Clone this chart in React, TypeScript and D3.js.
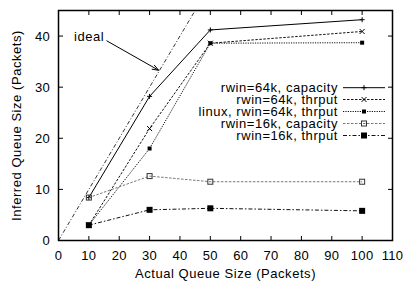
import React from "react";
import * as d3 from "d3";

const queueSizes = [10, 30, 50, 100];
const cap64 = [8.4, 28.2, 41.2, 43.2];
const thr64 = [3.0, 21.9, 38.6, 40.9];
const linuxThr64 = [3.0, 18.0, 38.6, 38.7];
const cap16 = [8.4, 12.6, 11.5, 11.5];
const thr16 = [3.0, 6.0, 6.3, 5.8];
const idealX = [0, 45];
const idealY = [0, 45];
const xTicks = [0, 10, 20, 30, 40, 50, 60, 70, 80, 90, 100, 110];
const yTicks = [0, 10, 20, 30, 40];
const seriesNames = [
  "rwin=64k, capacity",
  "rwin=64k, thrput",
  "linux, rwin=64k, thrput",
  "rwin=16k, capacity",
  "rwin=16k, thrput",
];

const W = 404, H = 283;
const L = 58.5, R = 392.5, T = 10.5, B = 240.5;
const FONT = "'Liberation Sans', Arial, Helvetica, sans-serif";
const FS = 13;
const LS = 0.55;

type Style = { dash: string; color: string; width: number; marker: string; ms: number };
const styles: Style[] = [
  { dash: "", color: "#000", width: 1, marker: "plus", ms: 2.5 },
  { dash: "2.5,1.5", color: "#111", width: 1, marker: "x", ms: 2.5 },
  { dash: "1.2,1.2", color: "#111", width: 1, marker: "fsq", ms: 2 },
  { dash: "2.5,1.5", color: "#777", width: 1, marker: "osq", ms: 2.5 },
  { dash: "4,2,1.5,2", color: "#111", width: 1, marker: "fsq", ms: 3 },
];
const seriesData = [cap64, thr64, linuxThr64, cap16, thr16];

function Marker({ x, y, kind, s, color }: { x: number; y: number; kind: string; s: number; color: string }) {
  if (kind === "plus")
    return <path d={`M${x - s},${y}H${x + s}M${x},${y - s}V${y + s}`} stroke={color} strokeWidth={1} />;
  if (kind === "x")
    return <path d={`M${x - s},${y - s}L${x + s},${y + s}M${x - s},${y + s}L${x + s},${y - s}`} stroke={color} strokeWidth={1} />;
  if (kind === "fsq")
    return <rect x={x - s} y={y - s} width={2 * s} height={2 * s} fill={color} />;
  return <rect x={x - s} y={y - s} width={2 * s} height={2 * s} fill="none" stroke={color} strokeWidth={1} />;
}

export default function App() {
  const x = d3.scaleLinear().domain([0, 110]).range([L, R]);
  const y = d3.scaleLinear().domain([0, 45]).range([B, T]);
  const line = d3.line<[number, number]>().x((d) => x(d[0])).y((d) => y(d[1]));
  const idealPts: [number, number][] = idealX.map((v, i) => [v, idealY[i]]);
  const legendY = [87.7, 99.5, 111.5, 123.5, 135.5];
  const arrowStart: [number, number] = [15.8, 39.1];
  const arrowEnd: [number, number] = [33, 33.3];
  const ax0 = x(arrowStart[0]), ay0 = y(arrowStart[1]);
  const ax1 = x(arrowEnd[0]), ay1 = y(arrowEnd[1]);
  const ang = Math.atan2(ay1 - ay0, ax1 - ax0);
  const hl = 7, hw = 0.35;
  const head = `M${ax1 - hl * Math.cos(ang - hw)},${ay1 - hl * Math.sin(ang - hw)}L${ax1},${ay1}L${ax1 - hl * Math.cos(ang + hw)},${ay1 - hl * Math.sin(ang + hw)}`;

  return (
    <div style={{ position: "absolute", left: 0, top: 0 }}>
      <svg width={W} height={H} style={{ display: "block", background: "#fff" }} fontFamily={FONT}>
        <defs>
          <clipPath id="plot">
            <rect x={L} y={T} width={R - L} height={B - T} />
          </clipPath>
        </defs>
        {/* ticks */}
        {xTicks.map((t) => (
          <g key={"xt" + t}>
            <line x1={x(t)} x2={x(t)} y1={B} y2={B - 4.5} stroke="#000" />
            <line x1={x(t)} x2={x(t)} y1={T} y2={T + 4.5} stroke="#000" />
            <text x={x(t)} y={255} textAnchor="middle" dominantBaseline="central" fontSize={FS} letterSpacing={0.3}>
              {t}
            </text>
          </g>
        ))}
        {yTicks.map((t) => (
          <g key={"yt" + t}>
            <line x1={L} x2={L + 4.5} y1={y(t)} y2={y(t)} stroke="#000" />
            <line x1={R} x2={R - 4.5} y1={y(t)} y2={y(t)} stroke="#000" />
            <text x={50} y={y(t)} textAnchor="end" dominantBaseline="central" fontSize={FS} letterSpacing={0.3}>
              {t}
            </text>
          </g>
        ))}
        {/* series */}
        <g clipPath="url(#plot)">
          <path d={line(idealPts) || ""} fill="none" stroke="#000" strokeWidth={0.8} strokeDasharray="4,2,1,2" />
        </g>
        {seriesData.map((vals, si) => {
          const pts: [number, number][] = queueSizes.map((q, i) => [q, vals[i]]);
          const st = styles[si];
          return (
            <g key={"s" + si}>
              <path d={line(pts) || ""} fill="none" stroke={st.color} strokeWidth={st.width} strokeDasharray={st.dash || undefined} />
              {pts.map((p, i) => (
                <Marker key={i} x={x(p[0])} y={y(p[1])} kind={st.marker} s={st.ms} color={si === 3 ? "#333" : "#000"} />
              ))}
            </g>
          );
        })}
        {/* ideal annotation */}
        <text x={74} y={y(39.1) - 4} dominantBaseline="central" fontSize={FS} letterSpacing={LS}>
          ideal
        </text>
        <line x1={ax0} y1={ay0} x2={ax1} y2={ay1} stroke="#000" strokeWidth={1} />
        <path d={head} fill="none" stroke="#000" strokeWidth={1} />
        {/* legend */}
        {seriesNames.map((name, i) => {
          const st = styles[i];
          const ly = legendY[i];
          return (
            <g key={"lg" + i}>
              <text x={338} y={ly} textAnchor="end" dominantBaseline="central" fontSize={FS} letterSpacing={LS}>
                {name}
              </text>
              <line x1={343} x2={385} y1={ly} y2={ly} stroke={st.color} strokeWidth={st.width} strokeDasharray={st.dash || undefined} />
              <Marker x={364} y={ly} kind={st.marker} s={st.ms} color={i === 3 ? "#333" : "#000"} />
            </g>
          );
        })}
        {/* frame */}
        <rect x={L} y={T} width={R - L} height={B - T} fill="none" stroke="#000" strokeWidth={1.5} />
        {/* axis labels */}
        <text x={(L + R) / 2} y={273} textAnchor="middle" dominantBaseline="central" fontSize={FS} letterSpacing={LS}>
          Actual Queue Size (Packets)
        </text>
        <text
          transform={`translate(16,${(T + B) / 2}) rotate(-90)`}
          textAnchor="middle"
          dominantBaseline="central"
          fontSize={FS}
          letterSpacing={LS}
        >
          Inferred Queue Size (Packets)
        </text>
      </svg>
    </div>
  );
}
